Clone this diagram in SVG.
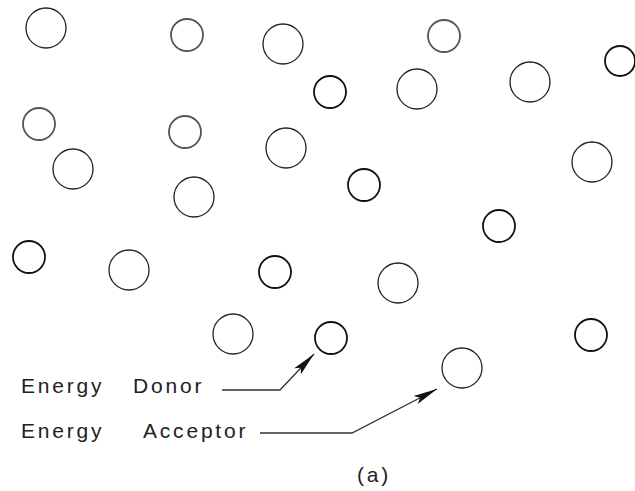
<svg xmlns="http://www.w3.org/2000/svg" width="635" height="491" viewBox="0 0 635 491">
<style>
.big{fill:none;stroke:#222;stroke-width:1.3}
.small{fill:none;stroke:#111;stroke-width:1.8}
.gray{stroke:#555}
.lbl{font-family:"Liberation Sans",Arial,sans-serif;font-size:21px;fill:#222;letter-spacing:2.8px}
.conn{fill:none;stroke:#333;stroke-width:1.3}
</style>
<defs>
<marker id="ah" markerUnits="userSpaceOnUse" markerWidth="26" markerHeight="12" refX="24" refY="6" orient="auto">
<path d="M0,1.5 L24,6 L0,10.5 L5,6 z" fill="#111"/>
</marker>
</defs>
<rect width="635" height="491" fill="#fff"/>
<g id="molecules">
<g id="m1"><circle class="big" cx="46" cy="28" r="20"/></g>
<g id="m2"><circle class="small gray" cx="187" cy="35" r="16"/></g>
<g id="m3"><circle class="big" cx="283" cy="44" r="20"/></g>
<g id="m4"><circle class="small gray" cx="444" cy="36" r="16"/></g>
<g id="m5"><circle class="small" cx="620" cy="61" r="15"/></g>
<g id="m6"><circle class="small" cx="330" cy="92" r="16"/></g>
<g id="m7"><circle class="big" cx="417" cy="89" r="20"/></g>
<g id="m8"><circle class="big" cx="530" cy="82" r="20"/></g>
<g id="m9"><circle class="small gray" cx="39" cy="124" r="16"/></g>
<g id="m10"><circle class="small gray" cx="185" cy="132" r="16"/></g>
<g id="m11"><circle class="big" cx="286" cy="148" r="20"/></g>
<g id="m12"><circle class="big" cx="73" cy="169" r="20"/></g>
<g id="m13"><circle class="big" cx="592" cy="162" r="20"/></g>
<g id="m14"><circle class="small" cx="364" cy="185" r="16"/></g>
<g id="m15"><circle class="big" cx="194" cy="197" r="20"/></g>
<g id="m16"><circle class="small" cx="499" cy="226" r="16"/></g>
<g id="m17"><circle class="small" cx="29" cy="257" r="16"/></g>
<g id="m18"><circle class="big" cx="129" cy="270" r="20"/></g>
<g id="m19"><circle class="small" cx="275" cy="272" r="16"/></g>
<g id="m20"><circle class="big" cx="398" cy="283" r="20"/></g>
<g id="m21"><circle class="big" cx="233" cy="334" r="20"/></g>
<g id="donor"><circle class="small" cx="331" cy="338" r="16"/></g>
<g id="m23"><circle class="small" cx="591" cy="335" r="16"/></g>
<g id="acceptor"><circle class="big" cx="462" cy="368" r="20"/></g>
</g>
<g id="connectors">
<path class="conn" d="M222,390 H280 L314,354" marker-end="url(#ah)"/>
<path class="conn" d="M260,433 H352 L437,389" marker-end="url(#ah)"/>
</g>
<g id="label-donor"><text class="lbl" x="21" y="393">Energy</text><text class="lbl" x="133" y="393">Donor</text></g>
<g id="label-acceptor"><text class="lbl" x="21" y="438">Energy</text><text class="lbl" x="143" y="438">Acceptor</text></g>
<g id="caption"><text class="lbl" x="357" y="482" font-size="24" letter-spacing="5">(a)</text></g>
</svg>
